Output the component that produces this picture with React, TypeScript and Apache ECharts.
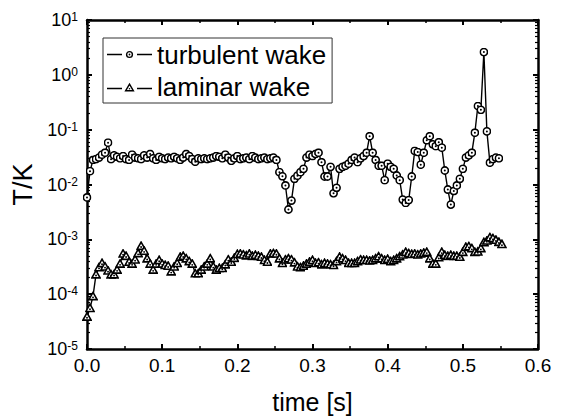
import React, { useEffect, useRef } from "react";
import * as echarts from "echarts";

// sampling interval of both records [s]
const SAMPLE_INTERVAL = 0.004;

// T/K values, turbulent wake
const turbulentWake = [
  0.0058, 0.0175, 0.028, 0.029, 0.031, 0.035, 0.038, 0.058, 0.029, 0.034,
  0.032, 0.030, 0.033, 0.029, 0.028, 0.035, 0.031, 0.030, 0.029, 0.034,
  0.031, 0.036, 0.030, 0.028, 0.032, 0.030, 0.029, 0.031, 0.030, 0.032,
  0.030, 0.028, 0.031, 0.036, 0.033, 0.029, 0.026, 0.030, 0.029, 0.030,
  0.029, 0.030, 0.031, 0.033, 0.032, 0.030, 0.035, 0.031, 0.027, 0.030,
  0.033, 0.029, 0.030, 0.031, 0.029, 0.033, 0.031, 0.029, 0.030, 0.031,
  0.029, 0.030, 0.031, 0.028, 0.0168, 0.0141, 0.0096, 0.0035, 0.0051, 0.0127,
  0.0145, 0.0168, 0.0193, 0.031, 0.035, 0.033, 0.036, 0.038, 0.0255, 0.014,
  0.014, 0.021, 0.0069, 0.0087, 0.0193, 0.021, 0.022, 0.024, 0.028, 0.031,
  0.0255, 0.030, 0.033, 0.038, 0.076, 0.038, 0.028, 0.022, 0.022, 0.012,
  0.024, 0.021, 0.0193, 0.0146, 0.012, 0.0053, 0.0046, 0.0052, 0.014, 0.041,
  0.039, 0.023, 0.038, 0.064, 0.076, 0.054, 0.050, 0.059, 0.047, 0.018,
  0.0081, 0.0043, 0.0076, 0.0096, 0.0127, 0.0193, 0.031, 0.034, 0.038, 0.088,
  0.27, 0.23, 2.6, 0.093, 0.025, 0.029, 0.031, 0.030,
];

// T/K values, laminar wake
const laminarWake = [
  3.9e-5, 5.6e-5, 9.2e-5, 2.3e-4, 3.1e-4, 3.7e-4, 3.2e-4, 2.7e-4, 2.3e-4, 2.3e-4,
  2.8e-4, 3.6e-4, 5.5e-4, 5.0e-4, 3.9e-4, 3.6e-4, 4.3e-4, 5.6e-4, 7.6e-4, 6.2e-4,
  4.5e-4, 3.6e-4, 2.8e-4, 3.6e-4, 4.2e-4, 3.6e-4, 3.4e-4, 3.3e-4, 2.6e-4, 3.2e-4,
  3.7e-4, 4.8e-4, 5.0e-4, 4.5e-4, 4.0e-4, 3.6e-4, 2.4e-4, 2.4e-4, 2.8e-4, 3.2e-4,
  3.6e-4, 4.5e-4, 3.2e-4, 2.8e-4, 3.0e-4, 3.0e-4, 3.5e-4, 4.3e-4, 3.9e-4, 4.6e-4,
  5.4e-4, 5.5e-4, 5.3e-4, 5.1e-4, 5.5e-4, 5.0e-4, 5.2e-4, 5.0e-4, 4.8e-4, 4.2e-4,
  3.9e-4, 5.5e-4, 5.6e-4, 5.5e-4, 4.5e-4, 3.7e-4, 4.3e-4, 4.5e-4, 4.3e-4, 3.8e-4,
  3.2e-4, 3.1e-4, 3.3e-4, 3.6e-4, 3.9e-4, 4.2e-4, 3.7e-4, 3.8e-4, 3.5e-4, 3.7e-4,
  3.6e-4, 3.5e-4, 3.4e-4, 4.0e-4, 4.8e-4, 4.5e-4, 4.2e-4, 3.7e-4, 3.7e-4, 3.7e-4,
  4.0e-4, 4.3e-4, 4.2e-4, 4.2e-4, 4.1e-4, 4.2e-4, 4.5e-4, 4.9e-4, 4.5e-4, 4.2e-4,
  4.4e-4, 4.0e-4, 4.2e-4, 4.5e-4, 4.9e-4, 5.3e-4, 5.9e-4, 5.6e-4, 5.4e-4, 5.5e-4,
  5.3e-4, 5.5e-4, 5.7e-4, 5.9e-4, 4.5e-4, 3.6e-4, 3.6e-4, 4.7e-4, 5.9e-4, 5.2e-4,
  5.0e-4, 5.2e-4, 5.0e-4, 5.0e-4, 4.8e-4, 5.9e-4, 7.3e-4, 7.5e-4, 6.9e-4, 5.9e-4,
  6.0e-4, 6.9e-4, 8.9e-4, 9.5e-4, 1.09e-3, 1.05e-3, 9.8e-4, 9.0e-4, 8.2e-4,
];

const seriesNames = ["turbulent wake", "laminar wake"];
const xRange = [0, 0.6];
const xStep = 0.1;
const yRange = [1e-5, 10];
const xTitle = "time [s]";
const yTitle = "T/K";

const FONT = "'Liberation Sans', Arial, Helvetica, sans-serif";

const svgUri = (svg: string) => "image://data:image/svg+xml;charset=utf-8," + encodeURIComponent(svg);

const circleMarker = svgUri(
  "<svg xmlns='http://www.w3.org/2000/svg' width='18' height='18' viewBox='0 0 18 18'>" +
    "<circle cx='9' cy='9' r='7.2' fill='white' stroke='black' stroke-width='3.2'/>" +
    "<circle cx='9' cy='9' r='2' fill='black'/></svg>"
);
const triangleMarker = svgUri(
  "<svg xmlns='http://www.w3.org/2000/svg' width='20' height='20' viewBox='0 0 20 20'>" +
    "<polygon points='10,2.4 18.2,17 1.8,17' fill='white' stroke='black' stroke-width='3.2' stroke-linejoin='miter'/>" +
    "<circle cx='10' cy='12.4' r='1.9' fill='black'/></svg>"
);
const circleLegend = svgUri(
  "<svg xmlns='http://www.w3.org/2000/svg' width='45' height='14' viewBox='0 0 45 14'>" +
    "<line x1='0' y1='7' x2='15' y2='7' stroke='black' stroke-width='1.7'/>" +
    "<line x1='30' y1='7' x2='45' y2='7' stroke='black' stroke-width='1.7'/>" +
    "<circle cx='22.5' cy='7' r='2.9' fill='white' stroke='black' stroke-width='1.4'/>" +
    "<circle cx='22.5' cy='7' r='0.9' fill='black'/></svg>"
);
const triangleLegend = svgUri(
  "<svg xmlns='http://www.w3.org/2000/svg' width='45' height='14' viewBox='0 0 45 14'>" +
    "<line x1='0' y1='9' x2='15' y2='9' stroke='black' stroke-width='1.7'/>" +
    "<line x1='30' y1='9' x2='45' y2='9' stroke='black' stroke-width='1.7'/>" +
    "<polygon points='22.5,4.6 26.4,11.3 18.6,11.3' fill='white' stroke='black' stroke-width='1.4'/>" +
    "<circle cx='22.5' cy='9.2' r='0.8' fill='black'/></svg>"
);

const toPairs = (vals: number[]) => vals.map((v, i) => [+(i * SAMPLE_INTERVAL).toFixed(4), v]);

export default function App() {
  const ref = useRef<HTMLDivElement>(null);
  useEffect(() => {
    if (!ref.current) return;
    const chart = echarts.init(ref.current, undefined, { renderer: "svg" });
    const axisLine = { show: true, onZero: false, lineStyle: { color: "#000", width: 2.5 } };
    const xCommon = {
      type: "value" as const,
      min: xRange[0],
      max: xRange[1],
      interval: xStep,
      splitLine: { show: false },
      axisLine,
      axisTick: { show: true, inside: true, length: 5, lineStyle: { color: "#000", width: 2 } },
      minorTick: { show: true, splitNumber: 2, length: 3, lineStyle: { color: "#000", width: 1.5 } },
    };
    const yCommon = {
      type: "log" as const,
      logBase: 10,
      min: yRange[0],
      max: yRange[1],
      splitNumber: 6,
      splitLine: { show: false },
      axisLine,
      axisTick: { show: true, inside: true, length: 5, lineStyle: { color: "#000", width: 2 } },
      minorTick: { show: true, splitNumber: 9, length: 3, lineStyle: { color: "#000", width: 1.2 } },
    };
    chart.setOption({
      animation: false,
      backgroundColor: "#fff",
      grid: { left: 87, right: 30, top: 20, bottom: 70, containLabel: false },
      legend: {
        orient: "vertical",
        left: 103,
        top: 38,
        padding: [3, 6, 3, 4],
        itemGap: 5,
        itemWidth: 45,
        itemHeight: 14,
        borderColor: "#333",
        borderWidth: 1,
        borderRadius: 0,
        textStyle: { fontSize: 26, color: "#000", fontFamily: FONT, lineHeight: 27 },
        data: [
          { name: seriesNames[0], icon: circleLegend },
          { name: seriesNames[1], icon: triangleLegend },
        ],
      },
      xAxis: [
        {
          ...xCommon,
          position: "bottom",
          axisLabel: {
            show: true,
            color: "#000",
            fontSize: 19,
            fontFamily: FONT,
            margin: 7,
            formatter: (v: number) => v.toFixed(1),
          },
          name: xTitle,
          nameLocation: "middle",
          nameGap: 40,
          nameTextStyle: { fontSize: 25, color: "#000", fontFamily: FONT },
        },
        { ...xCommon, position: "top", axisLabel: { show: false } },
      ],
      yAxis: [
        {
          ...yCommon,
          position: "left",
          axisLabel: {
            show: true,
            margin: 9,
            formatter: (v: number) => `{b|10}{s|${Math.round(Math.log10(v))}}`,
            rich: {
              b: { fontSize: 18, color: "#000", fontFamily: FONT, lineHeight: 18, padding: [4, 0, 0, 0], verticalAlign: "bottom" },
              s: { fontSize: 12, color: "#000", fontFamily: FONT, lineHeight: 12, verticalAlign: "top" },
            },
          },
          name: yTitle,
          nameLocation: "middle",
          nameGap: 48,
          nameTextStyle: { fontSize: 27, color: "#000", fontFamily: FONT },
        },
        { ...yCommon, position: "right", axisLabel: { show: false } },
      ],
      series: [
        {
          name: seriesNames[0],
          type: "line",
          data: toPairs(turbulentWake),
          symbol: circleMarker,
          symbolSize: 9,
          showAllSymbol: true,
          lineStyle: { color: "#000", width: 1.4 },
          itemStyle: { color: "#000" },
          emphasis: { disabled: true },
        },
        {
          name: seriesNames[1],
          type: "line",
          data: toPairs(laminarWake),
          symbol: triangleMarker,
          symbolSize: 10,
          showAllSymbol: true,
          lineStyle: { color: "#000", width: 1.4 },
          itemStyle: { color: "#000" },
          emphasis: { disabled: true },
        },
      ],
    });
    return () => chart.dispose();
  }, []);
  return <div ref={ref} style={{ width: 568, height: 419, position: "absolute", left: 0, top: 0 }} />;
}
